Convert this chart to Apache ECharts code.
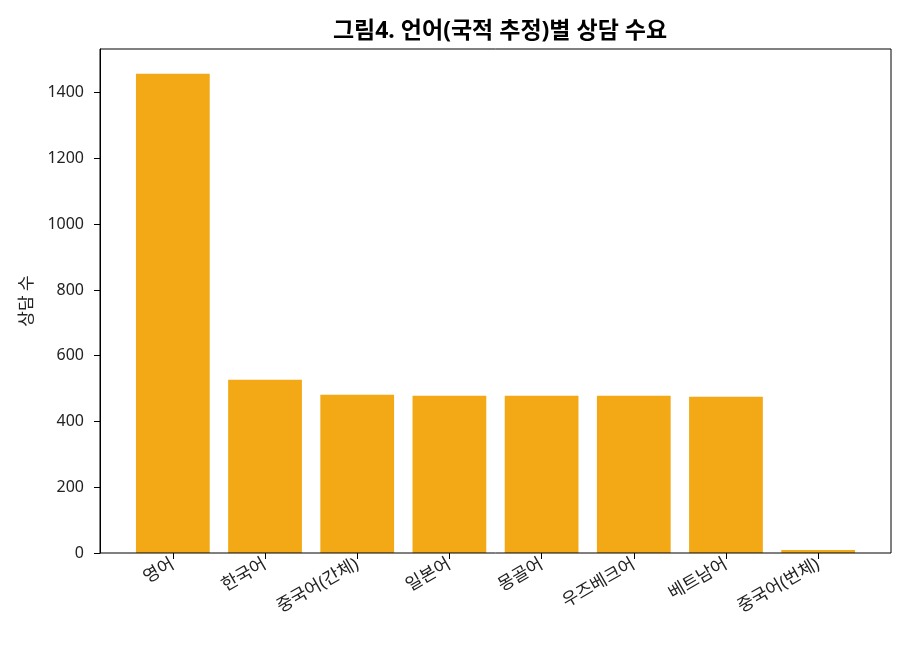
<!DOCTYPE html>
<html><head><meta charset="utf-8">
<script src="https://cdn.jsdelivr.net/npm/echarts@6/dist/echarts.min.js"></script>
<style>html,body{margin:0;padding:0;background:#fff}#c{width:910px;height:650px}</style>
</head><body><div id="c"></div>
<script>
const categories = ['영어','한국어','중국어(간체)','일본어','몽골어','우즈베크어','베트남어','중국어(번체)'];
const counts = [1458, 527, 481, 478, 478, 478, 475, 9];
const yTicks = [0, 200, 400, 600, 800, 1000, 1200, 1400];
const titleText = '그림4. 언어(국적 추정)별 상담 수요';
const yName = '상담 수';

const FONT = '"Noto Sans", "Noto Sans CJK KR", sans-serif';
const yMax = 1533;
const frame = {left: 100, top: 49, width: 791, height: 504};
const unit = 791 / 8.58;
const dataLeft = 100 + (0.79 - 0.5) * unit;
const dataWidth = unit * categories.length;

const chart = echarts.init(document.getElementById('c'), null, {renderer: 'canvas'});
chart.setOption({
  animation: false,
  backgroundColor: '#fff',
  title: {
    text: titleText, left: 495, top: 15, textAlign: 'center',
    textStyle: {fontFamily: FONT, fontSize: 23, fontWeight: 'bold', color: '#000'}
  },
  grid: [
    {left: frame.left, top: frame.top, width: frame.width, height: frame.height, show: true, borderColor: '#000', borderWidth: 1, backgroundColor: 'transparent', z: 5},
    {left: dataLeft, top: frame.top, width: dataWidth, height: frame.height}
  ],
  xAxis: [
    {gridIndex: 0, type: 'value', min: 0, max: 1, show: false},
    {gridIndex: 1, type: 'category', data: categories,
     axisLine: {show: false},
     axisTick: {show: true, alignWithLabel: true, length: 6, lineStyle: {color: '#000'}},
     axisLabel: {rotate: 30, margin: 10, fontFamily: FONT, fontSize: 17.5, color: '#222', interval: 0}
    }
  ],
  yAxis: [
    {gridIndex: 0, type: 'value', min: 0, max: yMax, interval: 200,
     name: yName, nameLocation: 'middle', nameGap: 64, nameRotate: 90,
     nameTextStyle: {fontFamily: FONT, fontSize: 17, color: '#222'},
     axisLine: {show: true, lineStyle: {color: '#000'}},
     axisTick: {show: true, length: 6, lineStyle: {color: '#000'}},
     splitLine: {show: false},
     axisLabel: {showMaxLabel: false, fontFamily: FONT, fontSize: 16, color: '#222', margin: 16,
       formatter: v => yTicks.includes(v) ? String(v) : ''}
    },
    {gridIndex: 1, type: 'value', min: 0, max: yMax, show: false}
  ],
  series: [{
    type: 'bar', xAxisIndex: 1, yAxisIndex: 1,
    data: counts, barWidth: '80%',
    itemStyle: {color: '#F3A816'}
  }]
});
</script></body></html>
